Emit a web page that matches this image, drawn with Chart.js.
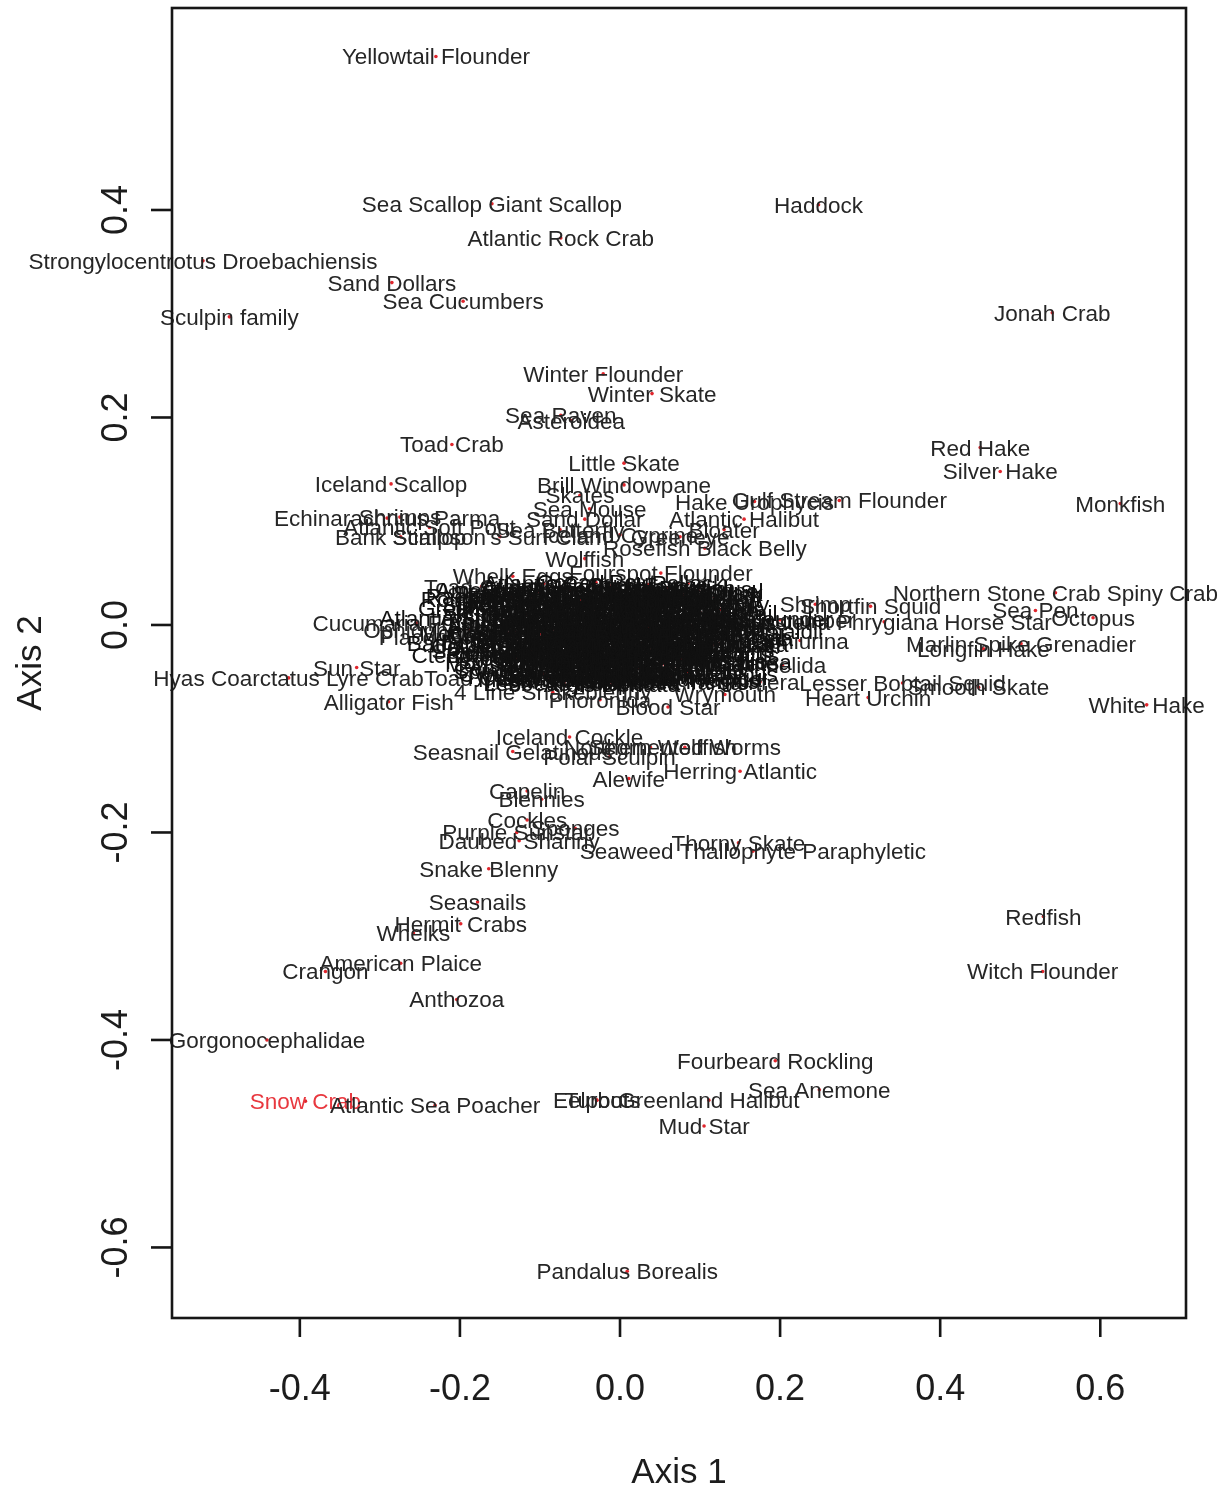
<!DOCTYPE html>
<html>
<head>
<meta charset="utf-8">
<title>Axis 1 / Axis 2 ordination</title>
<script src="https://cdn.jsdelivr.net/npm/chart.js@4.4.1/dist/chart.umd.min.js"></script>
<style>
  html, body { margin: 0; padding: 0; background: #fff; }
  canvas { display: block; }
</style>
</head>
<body>
<canvas id="ord" width="1228" height="1490"></canvas>
<script>
// species that stand apart from the central mass
const outerNames = [
  "Yellowtail Flounder", "Sea Scallop Giant Scallop", "Haddock", "Atlantic Rock Crab", "Strongylocentrotus Droebachiensis",
  "Sand Dollars", "Sea Cucumbers", "Sculpin family", "Jonah Crab", "Winter Flounder",
  "Winter Skate", "Sea Raven", "Asteroidea", "Toad Crab", "Red Hake",
  "Silver Hake", "Little Skate", "Iceland Scallop", "Brill Windowpane", "Skates",
  "Monkfish", "Hake Urophycis", "Gulf Stream Flounder", "Sea Mouse", "Echinarachnius Parma",
  "Atlantic Halibut", "Sand Dollar", "Shrimps", "Atlantic Soft Pout", "Bank Scallop",
  "Stimpson's Surf Clam", "Sea Butterfly", "Iceland Cyprine", "Bloater", "Greeneye",
  "Rosefish Black Belly", "Wolffish", "Whelk Eggs", "Fourspot Flounder", "Toad Crabs",
  "Northern Stone Crab Spiny Crab", "Shortfin Squid", "Shrimp", "Sea Pen", "Octopus",
  "Hippasteria Phrygiana Horse Star", "Sea Cucumber", "Marlin Spike Grenadier", "Longfin Hake", "Cucumaria Frondosa",
  "Ophiopholis Aculeata", "Placopecten Magellanicus", "Ophiurina", "Annelida", "Lesser Bobtail Squid",
  "Smooth Skate", "Heart Urchin", "White Hake", "Porifera", "Wrymouth",
  "Blood Star", "Hyas Coarctatus Lyre Crab", "Sun Star", "Toad Crab Hyas Araneus", "Alligator Fish",
  "4 Line Snakeblenny", "Phoronida", "Sea Spider", "Iceland Cockle", "Seasnail Gelatinous",
  "Polar Sculpin", "Northern Wolffish", "Segmented Worms", "Alewife", "Herring Atlantic",
  "Capelin", "Blennies", "Cockles", "Sponges", "Purple Sunstar",
  "Daubed Shanny", "Thorny Skate", "Seaweed Thallophyte Paraphyletic", "Snake Blenny", "Seasnails",
  "Hermit Crabs", "Whelks", "Redfish", "American Plaice", "Crangon",
  "Witch Flounder", "Anthozoa", "Gorgonocephalidae", "Fourbeard Rockling", "Sea Anemone",
  "Snow Crab", "Atlantic Sea Poacher", "Eelpouts", "Turbot", "Greenland Halibut",
  "Mud Star", "Pandalus Borealis"
];
const outerAxis1 = [
  -0.230, -0.160, 0.248, -0.074, -0.521,
  -0.285, -0.196, -0.488, 0.540, -0.021,
  0.040, -0.074, -0.061, -0.210, 0.450,
  0.475, 0.005, -0.286, 0.005, -0.050,
  0.625, 0.168, 0.274, -0.038, -0.291,
  0.155, -0.044, -0.275, -0.238, -0.274,
  -0.150, -0.075, 0.000, 0.130, 0.075,
  0.106, -0.044, -0.134, 0.051, -0.173,
  0.544, 0.313, 0.244, 0.519, 0.591,
  0.330, 0.200, 0.501, 0.454, -0.253,
  -0.188, -0.138, 0.225, 0.203, 0.353,
  0.448, 0.310, 0.658, 0.175, 0.131,
  0.060, -0.414, -0.329, -0.088, -0.289,
  -0.084, -0.025, -0.166, -0.063, -0.134,
  -0.013, 0.038, 0.081, 0.011, 0.150,
  -0.116, -0.098, -0.116, -0.056, -0.129,
  -0.126, 0.148, 0.166, -0.164, -0.178,
  -0.199, -0.258, 0.529, -0.274, -0.368,
  0.528, -0.204, -0.441, 0.194, 0.249,
  -0.393, -0.231, -0.029, -0.029, 0.111,
  0.105, 0.009
];
const outerAxis2 = [
  0.548, 0.406, 0.405, 0.373, 0.351,
  0.330, 0.312, 0.297, 0.301, 0.242,
  0.223, 0.202, 0.197, 0.174, 0.171,
  0.148, 0.156, 0.136, 0.135, 0.125,
  0.117, 0.119, 0.120, 0.112, 0.103,
  0.102, 0.102, 0.104, 0.094, 0.085,
  0.085, 0.092, 0.087, 0.092, 0.085,
  0.074, 0.064, 0.047, 0.050, 0.037,
  0.031, 0.018, 0.020, 0.014, 0.007,
  0.003, 0.005, -0.018, -0.023, 0.002,
  -0.005, -0.012, -0.015, -0.039, -0.056,
  -0.060, -0.070, -0.077, -0.055, -0.067,
  -0.079, -0.051, -0.041, -0.051, -0.074,
  -0.065, -0.072, -0.025, -0.108, -0.122,
  -0.127, -0.118, -0.118, -0.148, -0.141,
  -0.160, -0.168, -0.188, -0.196, -0.200,
  -0.208, -0.210, -0.218, -0.235, -0.267,
  -0.288, -0.297, -0.281, -0.326, -0.334,
  -0.334, -0.361, -0.400, -0.420, -0.448,
  -0.459, -0.463, -0.458, -0.458, -0.458,
  -0.483, -0.623
];

// the dense mass around the origin (labels overprint each other)
const clusterNames = [
  "Atlantic Cod", "Ocean Pout", "Sand Lance", "Pollock",
  "American Lobster", "Longhorn Sculpin", "Strongylocentrotus Pallidus", "Lumpfish", "Rock Gunnel",
  "Radiated Shanny", "Shorthorn Sculpin", "Arctic Staghorn Sculpin", "Spiny Dogfish", "Atlantic Wolffish", "Cusk",
  "Greenland Cod", "Henricia Sanguinolenta", "Arctic Cod", "Atlantic Mackerel", "Butterfish",
  "Green Sea Urchin", "Brittle Stars", "Sabinea Septemcarinata", "Basket Star", "Blue Mussel", "Hydroids",
  "Bryozoa", "Crossaster Papposus", "Pontophilus Norvegicus", "Tunicates", "Sea Squirts",
  "Polychaeta", "Amphipoda", "Leptasterias Polaris", "Isopoda", "Spirontocaris Spinus", "Mysids",
  "Krill", "Pink Shrimp", "Striped Pink Shrimp", "Sevenline Shrimp", "Aesop Shrimp", "Chiton",
  "Montague Shrimp", "Common Sea Star", "Sclerocrangon Boreas", "Northern Sea Star", "Spiny Sunstar", "Smooth Sunstar",
  "Sea Peach", "Sea Potato", "Northern Moon Snail", "Buccinum Undatum", "Neptunea Despecta",
  "Colus Stimpsoni", "Propeller Clam", "Ocean Quahog", "Eualus Macilentus", "Surf Clam", "Horse Mussel",
  "Nudibranch", "Arctic Eelpout", "Spiny Lumpsucker", "Vahl's Eelpout", "Snailfish",
  "Rock Crab", "Spider Crab", "Red Deepsea Crab", "Pteraster Militaris", "Grubby",
  "Moustache Sculpin", "Mailed Sculpin", "Twohorn Sculpin", "Smooth Flounder", "Barndoor Skate",
  "Spinytail Skate", "Round Skate", "Ophiura Sarsi", "Jellyfish", "Comb Jelly",
  "Soft Coral", "Solaster Endeca", "Psolus Fabricii", "Pandalus Montagui",
  "Lebbeus Polaris", "Argis Dentata", "Pasiphaea Tarda",
  // second layer, between the rows above
  "Atlantic Hagfish", "Sea Lamprey", "Black Dogfish",
  "Skate Egg Cases", "Deepwater Redfish", "Acadian Redfish", "Greenland Shark",
  "Roughhead Grenadier", "Roundnose Grenadier", "Atlantic Argentine", "Lanternfish", "Barracudina",
  "Silver Rockling", "Threebeard Rockling", "Checker Eelpout", "Arctic Shanny", "Stout Eelblenny",
  "Slender Eelblenny", "Atlantic Poacher", "Arctic Alligatorfish", "Gelatinous Snailfish", "Dusky Seasnail",
  "Atlantic Spiny Lumpsucker", "Arctic Hookear Sculpin", "Spatulate Sculpin", "Fourhorn Sculpin", "Sea Tadpole", "Windowpane Flounder",
  "American Angler", "Marlin-spike", "Northern Sand Lance", "Arctic Cisco", "Rainbow Smelt",
  "Atlantic Saury", "Lobster Larvae", "Hyas Araneus", "Pagurus Pubescens", "Lithodes Maja", "Neolithodes Grimaldii",
  "Cancer Irroratus", "Cancer Borealis", "Illex Illecebrosus", "Gonatus Fabricii", "Rossia Palpebrosa",
  "Bathypolypus Arcticus", "Buccinum Scalariforme", "Boreotrophon", "Margarites Groenlandicus", "Cyrtodaria Siliqua", "Mya Truncata",
  "Astarte Borealis", "Chlamys Islandica", "Modiolus Modiolus", "Mytilus Edulis", "Asterias Rubens",
  "Ctenodiscus Crispatus", "Poraniomorpha Hispida", "Ophiacantha Bidentata", "Gorgonocephalus Arcticus", "Brisaster Fragilis",
  "Psolus Phantapus", "Boltenia Ovifera", "Halocynthia Pyriformis", "Gersemia Rubiformis", "Actinostola Callosa",
  "Cerianthus Borealis", "Urticina Felina", "Metridium Senile", "Aurelia Aurita",
  "Cyanea Capillata", "Beroe Cucumis", "Sagitta Elegans", "Calanus Finmarchicus",
  "Themisto Libellula", "Meganyctiphanes Norvegica", "Thysanoessa Inermis"
];
const clusterAxis1 = [
  -0.095, -0.030, 0.035, 0.085,
  -0.120, -0.062, -0.005, 0.048, 0.098,
  -0.135, -0.080, -0.022, 0.030, 0.078, 0.118,
  -0.112, -0.050, 0.008, 0.060, 0.110,
  -0.140, -0.088, -0.030, 0.022, 0.072, 0.125,
  -0.118, -0.060, -0.004, 0.045, 0.098,
  -0.145, -0.092, -0.038, 0.015, 0.066, 0.118,
  -0.125, -0.070, -0.016, 0.036, 0.090, 0.135,
  -0.140, -0.098, -0.045, 0.008, 0.058, 0.108,
  -0.118, -0.066, -0.012, 0.040, 0.092,
  -0.135, -0.088, -0.036, 0.018, 0.068, 0.115,
  -0.110, -0.058, -0.004, 0.050, 0.100,
  -0.128, -0.078, -0.026, 0.026, 0.078,
  -0.100, -0.048, 0.004, 0.056, 0.100,
  -0.115, -0.066, -0.016, 0.036, 0.085,
  -0.090, -0.036, 0.016, 0.064,
  -0.070, -0.010, 0.048,
  -0.075, -0.010, 0.058,
  -0.100, -0.040, 0.020, 0.072,
  -0.110, -0.050, 0.005, 0.055, 0.100,
  -0.130, -0.078, -0.020, 0.035, 0.088,
  -0.108, -0.055, 0.000, 0.050, 0.100,
  -0.135, -0.082, -0.028, 0.025, 0.078, 0.125,
  -0.112, -0.060, -0.008, 0.045, 0.095,
  -0.130, -0.082, -0.030, 0.020, 0.072, 0.120,
  -0.115, -0.065, -0.015, 0.035, 0.085,
  -0.128, -0.078, -0.025, 0.028, 0.080, 0.125,
  -0.110, -0.060, -0.010, 0.040, 0.090,
  -0.120, -0.070, -0.018, 0.034, 0.085,
  -0.105, -0.052, 0.000, 0.050, 0.095,
  -0.085, -0.030, 0.022, 0.072,
  -0.095, -0.042, 0.010, 0.058,
  -0.060, 0.000, 0.040
];
const clusterAxis2 = [
  0.040, 0.041, 0.039, 0.040,
  0.034, 0.033, 0.035, 0.034, 0.033,
  0.028, 0.029, 0.027, 0.028, 0.029, 0.027,
  0.022, 0.021, 0.023, 0.022, 0.021,
  0.016, 0.017, 0.015, 0.016, 0.017, 0.015,
  0.010, 0.011, 0.009, 0.010, 0.011,
  0.004, 0.003, 0.005, 0.004, 0.003, 0.005,
  -0.002, -0.001, -0.003, -0.002, -0.001, -0.003,
  -0.008, -0.009, -0.007, -0.008, -0.009, -0.007,
  -0.014, -0.013, -0.015, -0.014, -0.013,
  -0.020, -0.021, -0.019, -0.020, -0.021, -0.019,
  -0.026, -0.025, -0.027, -0.026, -0.025,
  -0.032, -0.033, -0.031, -0.032, -0.033,
  -0.038, -0.037, -0.039, -0.038, -0.037,
  -0.044, -0.045, -0.043, -0.044, -0.045,
  -0.050, -0.051, -0.049, -0.050,
  -0.056, -0.057, -0.055,
  0.037, 0.038, 0.036,
  0.031, 0.030, 0.032, 0.031,
  0.025, 0.024, 0.026, 0.025, 0.024,
  0.019, 0.020, 0.018, 0.019, 0.020,
  0.013, 0.012, 0.014, 0.013, 0.012,
  0.007, 0.008, 0.006, 0.007, 0.008, 0.006,
  0.001, 0.000, 0.002, 0.001, 0.000,
  -0.005, -0.004, -0.006, -0.005, -0.004, -0.006,
  -0.011, -0.012, -0.010, -0.011, -0.012,
  -0.017, -0.016, -0.018, -0.017, -0.016, -0.018,
  -0.023, -0.024, -0.022, -0.023, -0.024,
  -0.029, -0.028, -0.030, -0.029, -0.028,
  -0.035, -0.036, -0.034, -0.035, -0.036,
  -0.041, -0.040, -0.042, -0.041,
  -0.047, -0.048, -0.046, -0.047,
  -0.053, -0.052, -0.054
];

const highlighted = ["Snow Crab"];

const xTicks = [-0.4, -0.2, 0.0, 0.2, 0.4, 0.6];
const xTickLabels = ["-0.4", "-0.2", "0.0", "0.2", "0.4", "0.6"];
const yTicks = [-0.6, -0.4, -0.2, 0.0, 0.2, 0.4];
const yTickLabels = ["-0.6", "-0.4", "-0.2", "0.0", "0.2", "0.4"];

const X_MIN = -0.5597, X_MAX = 0.7071;
const Y_MIN = -0.668, Y_MAX = 0.5947;

const allNames = outerNames.concat(clusterNames);
const allX = outerAxis1.concat(clusterAxis1);
const allY = outerAxis2.concat(clusterAxis2);
const points = allNames.map((n, i) => ({ x: allX[i], y: allY[i] }));

const FONT = '"Liberation Sans", Arial, Helvetica, sans-serif';

// species names drawn centred on each point, over the red dots (as text() after plot())
const speciesLabels = {
  id: "speciesLabels",
  afterDatasetsDraw(chart) {
    const ctx = chart.ctx;
    const meta = chart.getDatasetMeta(0);
    ctx.save();
    ctx.font = "22.5px " + FONT;
    ctx.textAlign = "center";
    ctx.textBaseline = "alphabetic";
    meta.data.forEach((pt, i) => {
      const name = allNames[i];
      if (highlighted.includes(name)) ctx.fillStyle = "#e8383f";
      else if (i >= outerNames.length) ctx.fillStyle = "#111";
      else ctx.fillStyle = "#262626";
      ctx.fillText(name, pt.x, pt.y + 8);
    });
    ctx.restore();
  }
};

// R-style box, outward ticks, rotated y labels
const boxAxes = {
  id: "boxAxes",
  afterDraw(chart) {
    const { ctx, chartArea: a, scales } = chart;
    const xs = scales.x, ys = scales.y;
    ctx.save();
    ctx.strokeStyle = "#161616";
    ctx.lineWidth = 2.6;
    ctx.strokeRect(a.left, a.top, a.right - a.left, a.bottom - a.top);

    ctx.fillStyle = "#1c1c1c";
    ctx.font = "36px " + FONT;
    ctx.textAlign = "center";
    ctx.textBaseline = "alphabetic";

    xTicks.forEach((v, i) => {
      const px = xs.getPixelForValue(v);
      ctx.beginPath();
      ctx.moveTo(px, a.bottom);
      ctx.lineTo(px, a.bottom + 19);
      ctx.stroke();
      ctx.fillText(xTickLabels[i], px, 1400);
    });

    yTicks.forEach((v, i) => {
      const py = ys.getPixelForValue(v);
      ctx.beginPath();
      ctx.moveTo(a.left, py);
      ctx.lineTo(a.left - 21, py);
      ctx.stroke();
      ctx.save();
      ctx.translate(127, py);
      ctx.rotate(-Math.PI / 2);
      ctx.fillText(yTickLabels[i], 0, 0);
      ctx.restore();
    });

    ctx.font = "35px " + FONT;
    ctx.fillText("Axis 1", (a.left + a.right) / 2, 1483);
    ctx.save();
    ctx.translate(41, (a.top + a.bottom) / 2);
    ctx.rotate(-Math.PI / 2);
    ctx.fillText("Axis 2", 0, 0);
    ctx.restore();
    ctx.restore();
  }
};

new Chart(document.getElementById("ord"), {
  type: "scatter",
  data: {
    datasets: [{
      label: "species",
      data: points,
      pointRadius: 1.8,
      pointBorderWidth: 0,
      pointBackgroundColor: "#e0262d",
      pointHoverRadius: 1.8
    }]
  },
  options: {
    responsive: false,
    animation: false,
    devicePixelRatio: 1,
    layout: { padding: { left: 172, top: 8, right: 42, bottom: 172 } },
    plugins: { legend: { display: false }, tooltip: { enabled: false } },
    scales: {
      x: { type: "linear", min: X_MIN, max: X_MAX, display: false },
      y: { type: "linear", min: Y_MIN, max: Y_MAX, display: false }
    }
  },
  plugins: [speciesLabels, boxAxes]
});
</script>
</body>
</html>
